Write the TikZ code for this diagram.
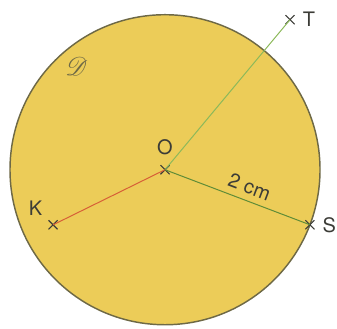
\documentclass[tikz,border=0pt]{standalone}
\usepackage{fontspec}
\setmainfont{TeX Gyre Heros}
\usepackage{mathrsfs}
\usetikzlibrary{shapes.misc,positioning,calc}
\definecolor{disque}{RGB}{236,204,88}
\definecolor{bord}{RGB}{110,105,70}
\definecolor{rayonvert}{RGB}{95,140,55}
\definecolor{tvert}{RGB}{140,185,90}
\definecolor{rayonrouge}{RGB}{215,95,55}
\definecolor{encre}{RGB}{60,60,55}
\tikzset{pt/.style={cross out,draw=encre,line width=0.6pt,inner sep=0pt,minimum size=4.4pt},
lbl/.style={text=encre,font=\fontsize{11}{13}\selectfont}}

\begin{document}
\begin{tikzpicture}[x=1.5cm,y=1.5cm]
\useasboundingbox (-2.129,-2.05) rectangle (2.219,2.19);
\fill[disque] (0,0) circle (2);
\draw[bord, line width=0.8pt] (0,0) circle (2);
\node[pt] (O) at (0,0) {};
\node[pt] (S) at (-20.8:2) {};
\node[pt] (T) at (50.2:2.52) {};
\node[pt] (K) at (206.2:1.61) {};
\node[lbl, text=bord, scale=1.3] at (-1.14,1.33) {$\mathscr{D}$};
\path[line width=0.55pt] (O.center) edge[tvert] (T.center)
	(O.center) edge[rayonvert] node[lbl, sloped, above, pos=0.55] {2 cm} (S.center)
	(O.center) edge[rayonrouge] (K.center);
\node[lbl, above=2pt of O] {O};
\node[lbl, right=1pt of T] {T};
\node[lbl, right=1pt of S] {S};
\node[lbl, above left=-1pt and 0pt of K] {K};
\end{tikzpicture}
\end{document}
